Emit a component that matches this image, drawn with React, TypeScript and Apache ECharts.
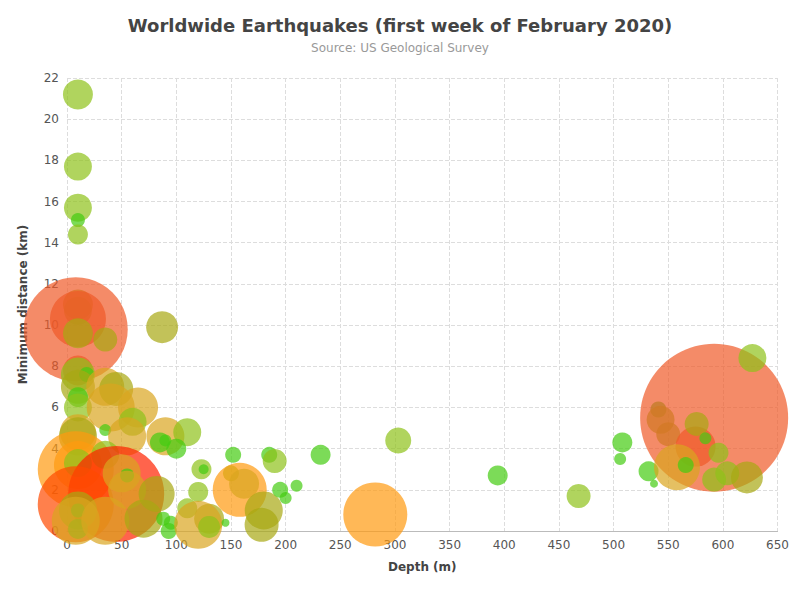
import { useEffect, useRef } from 'react';
import * as echarts from 'echarts';

// [depth (m), minimum distance (km), size score, class]
const quakes: [number, number, number, string][] = [
  [10, 21.2, 30, 'Y'], [10, 17.7, 28, 'Y'], [10, 15.7, 28, 'Y'], [10, 15.1, 14, 'G'],
  [10, 14.4, 20, 'Y'], [10, 11.0, 30, 'O'], [10, 10.7, 28, 'Y'], [10, 10.3, 56, 'S'],
  [8, 9.8, 104, 'S'], [10, 9.6, 30, 'O'], [35, 9.3, 24, 'O'], [87, 9.9, 32, 'O'],
  [10, 7.8, 30, 'S'], [10, 7.6, 34, 'Y'], [18, 7.6, 15, 'G'], [10, 7.0, 34, 'O'],
  [35, 7.0, 38, 'D'], [45, 6.9, 34, 'O'], [10, 6.5, 20, 'G'], [10, 6.0, 28, 'Y'],
  [40, 6.0, 48, 'D'], [65, 6.0, 40, 'D'], [60, 5.3, 28, 'Y'], [10, 4.8, 36, 'D'],
  [10, 4.6, 38, 'O'], [35, 4.9, 12, 'G'], [10, 3.2, 48, 'A'], [8, 3.0, 76, 'A'],
  [55, 4.6, 38, 'D'], [90, 4.6, 38, 'D'], [110, 4.8, 28, 'Y'], [85, 4.3, 20, 'G'],
  [90, 4.4, 12, 'G'], [100, 4.0, 20, 'G'], [35, 3.7, 28, 'Y'], [10, 3.3, 28, 'Y'],
  [45, 1.8, 96, 'R'], [8, 1.3, 76, 'V'], [50, 2.8, 38, 'D'], [55, 2.7, 14, 'G'],
  [55, 2.0, 38, 'D'], [10, 1.0, 38, 'O'], [10, 1.0, 14, 'G'], [10, 0.1, 20, 'G'],
  [8, 0.5, 48, 'D'], [35, 0.5, 48, 'D'], [70, 0.6, 38, 'O'], [82, 1.8, 36, 'O'],
  [88, 0.6, 14, 'G'], [95, 0.4, 14, 'G'], [93, 0.0, 16, 'G'], [110, 1.1, 20, 'Y'],
  [120, 1.9, 20, 'Y'], [123, 3.0, 20, 'Y'], [125, 3.0, 10, 'G'], [130, 0.6, 30, 'O'],
  [120, 0.3, 48, 'D'], [130, 0.2, 22, 'Y'], [145, 0.4, 8, 'G'], [150, 2.8, 16, 'Y'],
  [152, 3.7, 16, 'G'], [158, 2.0, 54, 'A'], [162, 2.3, 30, 'D'], [180, 1.0, 38, 'O'],
  [178, 0.3, 34, 'O'], [185, 3.7, 16, 'G'], [190, 3.4, 24, 'Y'], [195, 2.0, 16, 'G'],
  [200, 1.6, 12, 'G'], [210, 2.2, 12, 'G'], [232, 3.7, 20, 'G'], [282, 0.8, 64, 'A'],
  [303, 4.4, 26, 'Y'], [394, 2.7, 20, 'G'], [468, 1.7, 24, 'Y'], [508, 4.3, 20, 'G'],
  [506, 3.5, 12, 'G'], [537, 2.3, 8, 'G'], [532, 2.9, 20, 'G'], [541, 5.9, 16, 'G'],
  [543, 5.4, 28, 'Y'], [550, 4.7, 24, 'Y'], [592, 5.5, 148, 'S'], [575, 4.1, 40, 'S'],
  [558, 3.1, 46, 'D'], [566, 3.2, 16, 'G'], [576, 5.2, 24, 'O'], [584, 4.5, 12, 'G'],
  [596, 3.8, 20, 'Y'], [592, 2.5, 24, 'Y'], [604, 2.8, 24, 'Y'], [622, 2.6, 32, 'O'],
  [627, 8.4, 28, 'Y'],
];

const classColors: Record<string, string> = {
  G: '#44cc11',
  Y: '#8fc21a',
  O: '#a8a812',
  D: '#daa520',
  A: '#ff9a10',
  S: '#f05a28',
  V: '#ff4a00',
  R: '#ff2200',
};

const xTicks = { min: 0, max: 650, interval: 50 };
const yTicks = { min: 0, max: 22, interval: 2 };

export default function App() {
  const elRef = useRef<HTMLDivElement | null>(null);

  useEffect(() => {
    if (!elRef.current) return;
    const chart = echarts.init(elRef.current, null, { renderer: 'svg' });
    chart.setOption({
      animation: false,
      title: {
        text: 'Worldwide Earthquakes (first week of February 2020)',
        subtext: 'Source: US Geological Survey',
        left: 'center',
        top: 3,
        itemGap: 8,
        textStyle: { fontSize: 18, fontWeight: 'bold', color: '#444', fontFamily: 'DejaVu Sans' },
        subtextStyle: { fontSize: 12, color: '#999', fontFamily: 'DejaVu Sans' },
      },
      grid: { left: 59, right: 12, top: 70, bottom: 61 },
      xAxis: {
        type: 'value',
        ...xTicks,
        name: 'Depth (m)',
        nameLocation: 'middle',
        nameGap: 30,
        nameTextStyle: { fontWeight: 'bold', color: '#444', fontSize: 12, fontFamily: 'DejaVu Sans' },
        axisLine: { lineStyle: { color: '#bbb' } },
        axisTick: { show: false },
        axisLabel: { color: '#555', fontSize: 12, fontFamily: 'DejaVu Sans' },
        splitLine: { lineStyle: { type: 'dashed', color: '#ddd' } },
      },
      yAxis: {
        type: 'value',
        ...yTicks,
        name: 'Minimum distance (km)',
        nameLocation: 'middle',
        nameGap: 38,
        nameTextStyle: { fontWeight: 'bold', color: '#444', fontSize: 12, fontFamily: 'DejaVu Sans' },
        axisLine: { show: false },
        axisTick: { show: false },
        axisLabel: { color: '#555', fontSize: 12, fontFamily: 'DejaVu Sans' },
        splitLine: { lineStyle: { type: 'dashed', color: '#ddd' } },
      },
      series: [
        {
          type: 'scatter',
          data: quakes,
          symbolSize: (v: any[]) => v[2],
          itemStyle: {
            opacity: 0.7,
            color: (p: any) => classColors[p.data[3]],
          },
        },
      ],
    });
    return () => chart.dispose();
  }, []);

  return <div ref={elRef} style={{ width: 784, height: 584 }} />;
}
